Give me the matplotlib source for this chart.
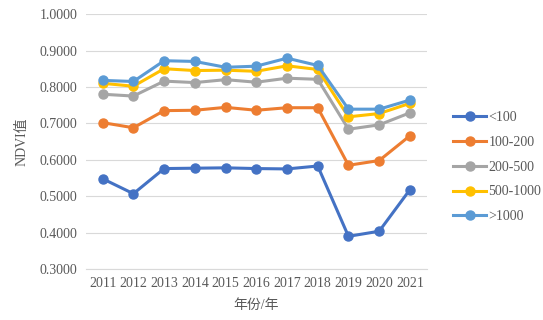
import numpy as np
import matplotlib.pyplot as plt

plt.rcParams['font.family'] = ['Liberation Serif', 'Noto Sans CJK SC']

years = ['2011', '2012', '2013', '2014', '2015', '2016', '2017', '2018', '2019', '2020', '2021']
labels = ['<100', '100-200', '200-500', '500-1000', '>1000']
colors = ['#4472C4', '#ED7D31', '#A5A5A5', '#FFC000', '#5B9BD5']

lt100 = [0.548, 0.507, 0.576, 0.577, 0.578, 0.576, 0.575, 0.583, 0.390, 0.404, 0.518]
r100_200 = [0.702, 0.688, 0.735, 0.736, 0.744, 0.736, 0.743, 0.743, 0.585, 0.598, 0.666]
r200_500 = [0.780, 0.775, 0.816, 0.812, 0.820, 0.813, 0.824, 0.821, 0.684, 0.696, 0.729]
r500_1000 = [0.810, 0.802, 0.850, 0.845, 0.846, 0.843, 0.858, 0.848, 0.718, 0.727, 0.755]
gt1000 = [0.818, 0.815, 0.872, 0.870, 0.854, 0.857, 0.879, 0.859, 0.739, 0.739, 0.764]
series = [lt100, r100_200, r200_500, r500_1000, gt1000]

fig = plt.figure(figsize=(5.43, 3.2), dpi=100)
ax = fig.add_axes([0.158, 0.159, 0.628, 0.797])

x = np.arange(len(years))
for vals, lab, col in zip(series, labels, colors):
    ax.plot(x, vals, color=col, lw=2.2, marker='o', ms=6.5, label=lab)

ax.set_ylim(0.3, 1.0)
ax.set_xlim(-0.55, len(years) - 0.45)
ax.set_yticks(np.arange(0.3, 1.0001, 0.1))
ax.set_yticklabels([f'{v:.4f}' for v in np.arange(0.3, 1.0001, 0.1)])
ax.set_xticks(x)
ax.set_xticklabels(years)
ax.tick_params(length=0, labelsize=10, colors='#595959', pad=6)
ax.grid(axis='y', color='#D9D9D9', lw=0.8)
ax.set_axisbelow(True)
for s in ['top', 'left', 'right']:
    ax.spines[s].set_visible(False)
ax.spines['bottom'].set_color('#D9D9D9')

ax.set_xlabel('年份/年', fontsize=10, color='#595959', labelpad=6)
ax.set_ylabel('NDVI值', fontsize=10, color='#595959', labelpad=8)

ax.legend(loc='center left', bbox_to_anchor=(1.04, 0.40), frameon=False,
          fontsize=10, labelcolor='#595959', handlelength=2.4, handletextpad=0.15,
          labelspacing=0.85)

fig.savefig('out.png', dpi=100)
